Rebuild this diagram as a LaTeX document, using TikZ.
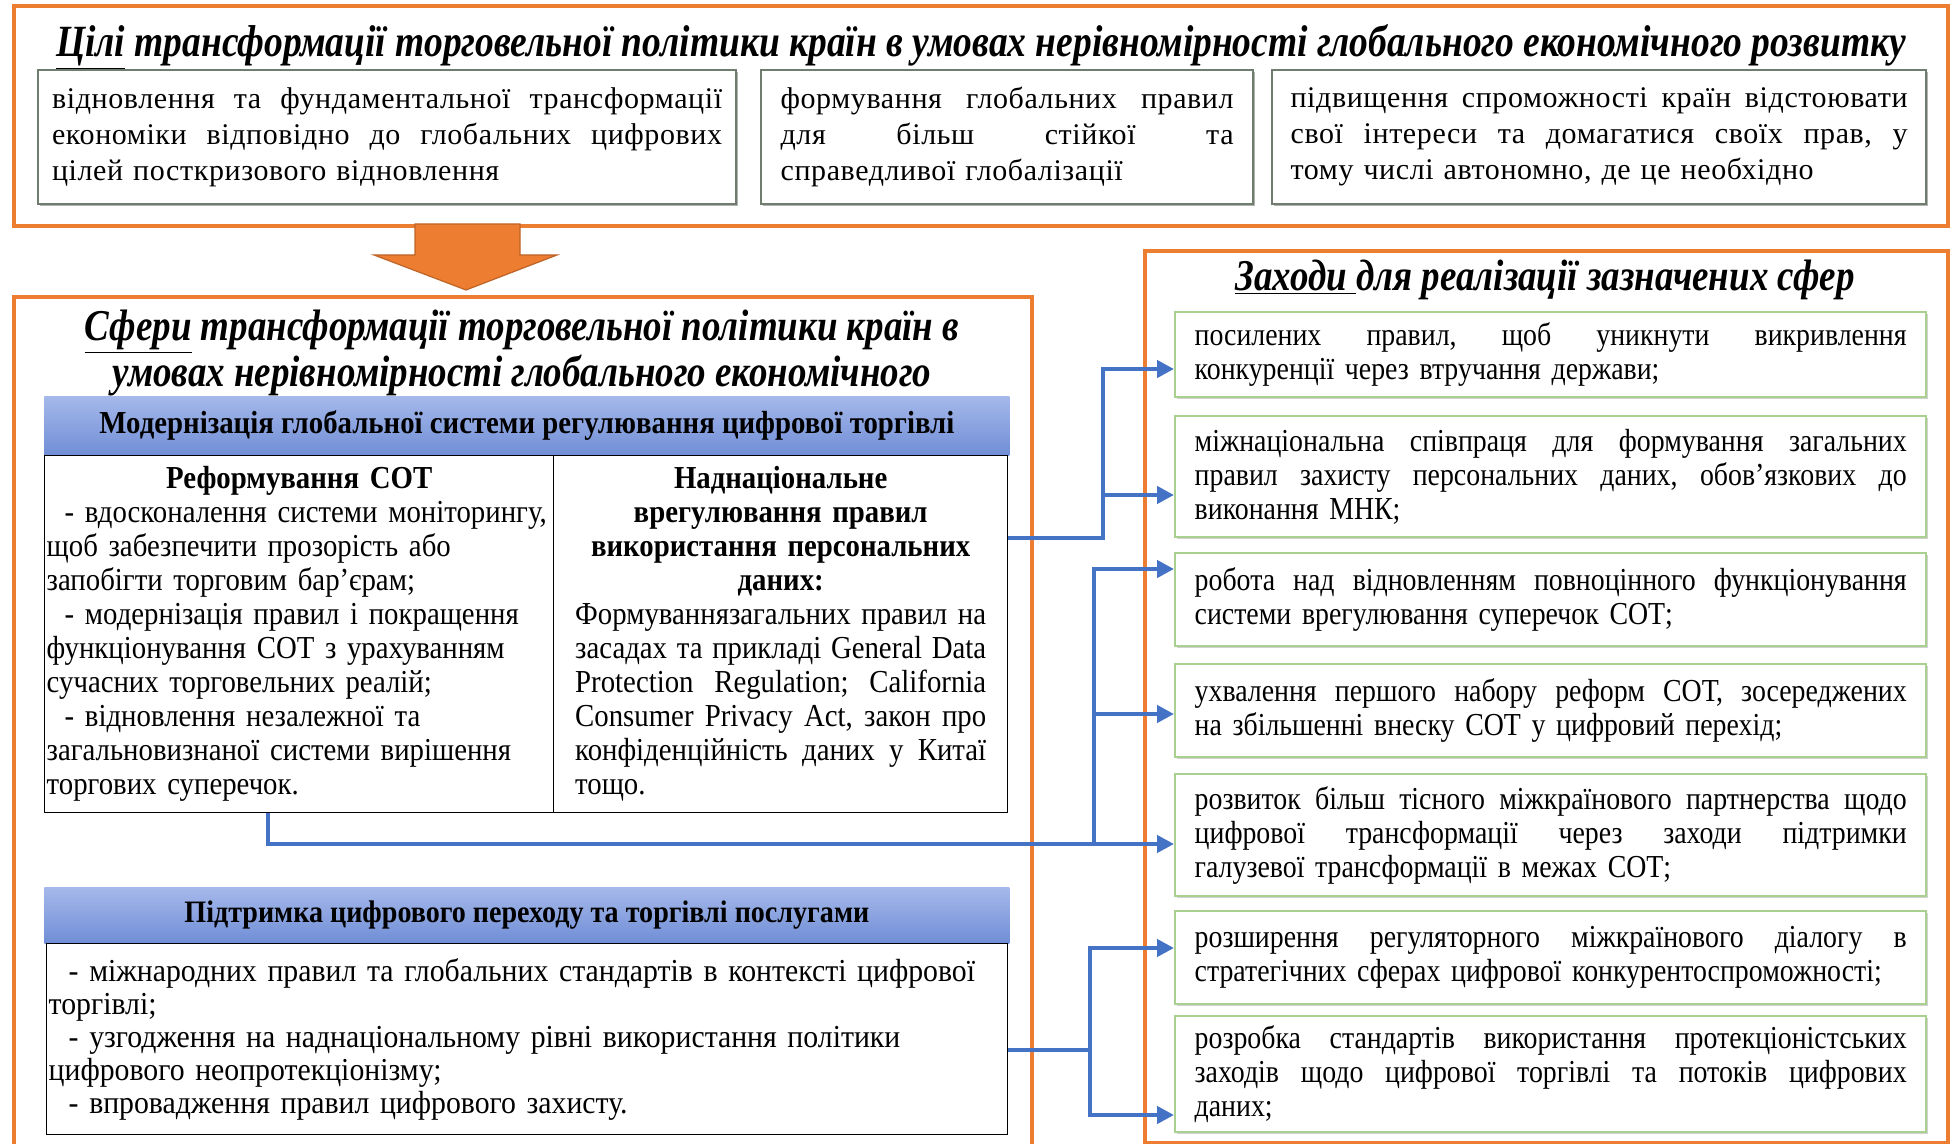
\documentclass[tikz,border=0pt]{standalone}
\usepackage{fontspec}
\setmainfont{Liberation Serif}
\newfontfamily\bodyf[FakeStretch=0.87]{Liberation Serif}
\newfontfamily\narf[FakeStretch=0.9]{Liberation Serif}
\newfontfamily\narfb[FakeStretch=0.93]{Liberation Serif}
\newfontfamily\topf[LetterSpace=2]{Liberation Serif}
\newfontfamily\titf[FakeStretch=0.84]{Liberation Serif}
\usetikzlibrary{arrows.meta,calc,shadows}
\definecolor{orangeC}{RGB}{237,125,49}
\definecolor{blueC}{RGB}{68,114,196}
\definecolor{greenC}{RGB}{169,208,142}
\definecolor{grayC}{RGB}{110,125,110}
\definecolor{hdrTop}{RGB}{165,184,234}
\definecolor{hdrBot}{RGB}{112,142,214}
\newlength\jw
\ExplSyntaxOn
\tl_new:N \l_jl_tl
\NewDocumentCommand\jl{m}{
  \tl_set:Nn \l_jl_tl {#1}
  \tl_replace_all:Nnn \l_jl_tl {~} {\hskip 0.22em plus 1fil\relax}
  \mode_leave_vertical:
  \hbox_to_wd:nn {\jw} {\l_jl_tl}
}
\ExplSyntaxOff
\newcommand\cl[1]{\makebox[\jw][c]{#1}}
\begin{document}
\begin{tikzpicture}[x=0.5pt,y=-0.5pt,
  tw/.style={text width=#1, execute at begin node={\setlength{\jw}{#1}}},
  obox/.style={draw=orangeC, line width=2.2pt, anchor=north west, inner sep=0pt},
  tbox/.style={draw=grayC, line width=1.1pt, fill=white, anchor=north west, align=left, inner ysep=0pt, minimum height=67pt,
    general shadow={fill=black!30, shadow xshift=1pt, shadow yshift=-1pt}, font=\topf\fontsize{15}{18}\selectfont},
  gbox/.style={draw=greenC, line width=1.2pt, fill=white, anchor=north west, align=left, tw=356pt, inner xsep=9.75pt, inner ysep=0pt,
    general shadow={fill=black!18, shadow xshift=1pt, shadow yshift=-1pt}, font=\bodyf\fontsize{16}{17}\selectfont},
  hdr/.style={draw=none, top color=hdrTop, bottom color=hdrBot, anchor=north west, minimum width=482.5pt, inner sep=0pt, font=\narf\bfseries\fontsize{16}{18}\selectfont},
  cell/.style={draw=black, line width=0.7pt, fill=white, anchor=north west, align=left, inner ysep=0pt, font=\narf\fontsize{16}{17}\selectfont},
  conn/.style={draw=blueC, line width=2.3pt},
  arr/.style={conn, -{Triangle[length=8.5pt,width=8.5pt]}},
  ttl/.style={font=\titf\bfseries\itshape\fontsize{22}{21}\selectfont, inner sep=0pt}
]
\useasboundingbox (0,0) rectangle (1954,1144);
% outer orange frames
\node[obox, minimum width=967pt, minimum height=110pt] (goals) at (12,4) {};
\node[obox, minimum width=509pt, minimum height=430pt] (spheres) at (12,295) {};
\node[obox, minimum width=401.5pt, minimum height=446pt] (measures) at (1143,249) {};
% orange arrow
\draw[fill=orangeC, draw=orangeC!80!black, line width=0.6pt]
  (415,224) -- (520,224) -- (520,255) -- (557,255) -- (466,290) -- (374,255) -- (415,255) -- cycle;
% titles
\node[ttl, font=\titf\bfseries\itshape\fontsize{22.3}{21}\selectfont] (tgoals) at (981,47) {\underline{Цілі} трансформації торговельної політики країн в умовах нерівномірності глобального економічного розвитку};
\node[ttl, align=center] (tspheres) at (522,353) {\underline{Сфери} трансформації торговельної політики країн в\\ умовах нерівномірності глобального економічного};
\node[ttl] (tmeas) at (1545,280) {\underline{Заходи\ }для реалізації зазначених сфер};
% top goal boxes
\node[tbox, minimum width=349pt, tw=335pt, inner xsep=7pt] (g1) at (37,69)
 {\jl{відновлення та фундаментальної трансформації}\\ \jl{економіки відповідно до глобальних цифрових}\\ цілей посткризового відновлення};
\node[tbox, minimum width=246pt, tw=226.5pt, inner xsep=9.75pt] (g2) at (760,69)
 {\jl{формування глобальних правил}\\ \jl{для більш стійкої та}\\ справедливої глобалізації};
\node[tbox, minimum width=327pt, tw=308.5pt, inner xsep=9.25pt] (g3) at (1271,69)
 {\jl{підвищення спроможності країн відстоювати}\\ \jl{свої інтереси та домагатися своїх прав, у}\\ тому числі автономно, де це необхідно};
% spheres
\node[hdr, minimum height=29.5pt] (h1) at (44,396) {Модернізація глобальної системи регулювання цифрової торгівлі};
\node[cell, minimum width=254.5pt, minimum height=178.5pt, tw=252.5pt, inner xsep=1pt] (lcell) at (44,455)
 {\cl{\bfseries Реформування СОТ}\\
  \hspace*{9pt}- вдосконалення системи моніторингу,\\
  щоб забезпечити прозорість або\\
  запобігти торговим бар’єрам;\\
  \hspace*{9pt}- модернізація правил і покращення\\
  функціонування СОТ з урахуванням\\
  сучасних торговельних реалій;\\
  \hspace*{9pt}- відновлення незалежної та\\
  загальновизнаної системи вирішення\\
  торгових суперечок.};
\node[cell, minimum width=227pt, minimum height=178.5pt, tw=205.5pt, inner xsep=10.75pt] (rcell) at (553,455)
 {\cl{\bfseries Наднаціональне}\\
  \cl{\bfseries врегулювання правил}\\
  \cl{\bfseries використання персональних}\\
  \cl{\bfseries даних:}\\
  \jl{Формуваннязагальних правил на}\\
  \jl{засадах та прикладі General Data}\\
  \jl{Protection Regulation; California}\\
  \jl{Consumer Privacy Act, закон про}\\
  \jl{конфіденційність даних у Китаї}\\
  тощо.};
\node[hdr, minimum height=28pt, font=\narf\bfseries\fontsize{15.6}{18}\selectfont] (h2) at (44,887) {Підтримка цифрового переходу та торгівлі послугами};
\node[cell, minimum width=480.5pt, minimum height=95.5pt, tw=478.5pt, inner xsep=1pt, font=\narfb\fontsize{16}{16.5}\selectfont] (lowbox) at (46,943)
 {\hspace*{10pt}- міжнародних правил та глобальних стандартів в контексті цифрової\\
  торгівлі;\\
  \hspace*{10pt}- узгодження на наднаціональному рівні використання політики\\
  цифрового неопротекціонізму;\\
  \hspace*{10pt}- впровадження правил цифрового захисту.};
% measures
\node[gbox, minimum height=42.5pt] (m1) at (1174,311)
 {\jl{посилених правил, щоб уникнути викривлення}\\ конкуренції через втручання держави;};
\node[gbox, minimum height=60.5pt] (m2) at (1174,415)
 {\jl{міжнаціональна співпраця для формування загальних}\\ \jl{правил захисту персональних даних, обов’язкових до}\\ виконання МНК;};
\node[gbox, minimum height=46.5pt] (m3) at (1174,552)
 {\jl{робота над відновленням повноцінного функціонування}\\ системи врегулювання суперечок СОТ;};
\node[gbox, minimum height=46.5pt] (m4) at (1174,663)
 {\jl{ухвалення першого набору реформ СОТ, зосереджених}\\ на збільшенні внеску СОТ у цифровий перехід;};
\node[gbox, minimum height=61pt] (m5) at (1174,773)
 {\jl{розвиток більш тісного міжкраїнового партнерства щодо}\\ \jl{цифрової трансформації через заходи підтримки}\\ галузевої трансформації в межах СОТ;};
\node[gbox, minimum height=46.5pt] (m6) at (1174,910)
 {\jl{розширення регуляторного міжкраїнового діалогу в}\\ стратегічних сферах цифрової конкурентоспроможності;};
\node[gbox, minimum height=58pt] (m7) at (1174,1015)
 {\jl{розробка стандартів використання протекціоністських}\\ \jl{заходів щодо цифрової торгівлі та потоків цифрових}\\ даних;};
% connector coordinates
\coordinate (a1) at ($(rcell.north east)+(0,83)$);
\coordinate (ja) at (1103,538);
\coordinate (t1) at ($(m1.north west)+(0,58)$);
\coordinate (t2) at ($(m2.north west)+(0,80)$);
\coordinate (b1) at ($(lcell.south west)+(224,0)$);
\coordinate (jb) at (1094,844);
\coordinate (t3) at ($(m3.north west)+(0,17)$);
\coordinate (t4) at ($(m4.north west)+(0,51)$);
\coordinate (t5) at ($(m5.north west)+(0,71)$);
\coordinate (c1) at ($(lowbox.north east)+(0,107)$);
\coordinate (jc) at (1090,1050);
\coordinate (t6) at ($(m6.north west)+(0,38)$);
\coordinate (t7) at ($(m7.north west)+(0,100)$);
% connectors
\draw[arr] (a1) -- (ja) |- (t1);
\draw[arr] (ja |- t2) -- (t2);
\draw[arr] (b1) |- (t5);
\draw[arr] (jb) |- (t3);
\draw[arr] (jb |- t4) -- (t4);
\draw[conn] (c1) -- (jc);
\draw[arr] (jc) |- (t6);
\draw[arr] (jc) |- (t7);
\end{tikzpicture}
\end{document}
